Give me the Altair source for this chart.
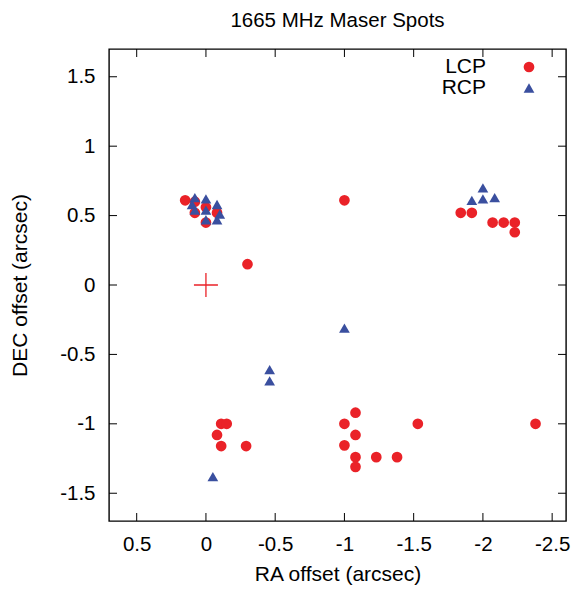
import altair as alt
import pandas as pd

# LCP (red circles)
lcp_x = [0.15, 0.08, 0.08, 0.0, -0.08, 0.0,
         -1.84, -1.92, -2.07, -2.15, -2.23, -2.23,
         -1.0, -0.3,
         -0.11, -0.15, -0.08, -0.11, -0.29,
         -1.08, -1.0, -1.08, -1.0, -1.08, -1.08, -1.23, -1.38, -1.53, -2.38]
lcp_y = [0.61, 0.60, 0.52, 0.56, 0.52, 0.45,
         0.52, 0.52, 0.45, 0.45, 0.45, 0.38,
         0.61, 0.15,
         -1.0, -1.0, -1.08, -1.16, -1.16,
         -0.92, -1.0, -1.08, -1.155, -1.24, -1.31, -1.24, -1.24, -1.0, -1.0]

# RCP (blue triangles)
rcp_x = [0.08, 0.0, 0.10, -0.08, 0.08, 0.0, -0.10, 0.0, -0.08,
         -2.0, -1.92, -2.0, -2.085,
         -1.0, -0.46, -0.46, -0.05]
rcp_y = [0.63, 0.62, 0.58, 0.58, 0.54, 0.54, 0.51, 0.47, 0.47,
         0.70, 0.61, 0.62, 0.63,
         -0.31, -0.61, -0.69, -1.38]

# reference position (plus)
ref_x = [0.0]
ref_y = [0.0]

series = ["LCP", "RCP"]
x_ticks = [0.5, 0, -0.5, -1, -1.5, -2, -2.5]
y_ticks = [-1.5, -1, -0.5, 0, 0.5, 1, 1.5]

W, H = 457, 472
TL = 8
FONT = "Liberation Sans"
RED = "#ea2228"
BLUE = "#3a4f9f"

pts = pd.DataFrame({
    "x": lcp_x + rcp_x,
    "y": lcp_y + rcp_y,
    "pol": ["LCP"] * len(lcp_x) + ["RCP"] * len(rcp_x),
})
ref = pd.DataFrame({"x": ref_x, "y": ref_y})
xt = pd.DataFrame({"x": x_ticks})
yt = pd.DataFrame({"y": y_ticks})

xs = alt.Scale(domain=[-2.6, 0.7], reverse=True, nice=False, zero=False)
ys = alt.Scale(domain=[-1.7, 1.7], nice=False, zero=False)
cs = alt.Scale(domain=series, range=[RED, BLUE])
ss = alt.Scale(domain=series, range=["circle", "triangle-up"])

xenc = alt.X("x:Q", scale=xs, axis=alt.Axis(
    values=x_ticks, tickSize=0, domain=False, grid=False,
    labelExpr="toString(datum.value)", labelFontSize=20.5, labelPadding=13,
    labelFont=FONT, labelColor="black",
    title="RA offset (arcsec)", titleFont=FONT, titleFontSize=21,
    titleFontWeight="normal", titlePadding=9, titleColor="black"))
yenc = alt.Y("y:Q", scale=ys, axis=alt.Axis(
    values=y_ticks, tickSize=0, domain=False, grid=False,
    labelExpr="toString(datum.value)", labelFontSize=20.5, labelPadding=14,
    labelFont=FONT, labelColor="black",
    title="DEC offset (arcsec)", titleFont=FONT, titleFontSize=21,
    titleFontWeight="normal", titlePadding=29, titleColor="black"))

points = alt.Chart(pts).mark_point(filled=True, size=115, opacity=1).encode(
    x=xenc, y=yenc,
    color=alt.Color("pol:N", scale=cs, legend=None),
    shape=alt.Shape("pol:N", scale=ss, legend=None),
)

plus = alt.Chart(ref).mark_point(shape="M-1,0L1,0M0,-1L0,1", filled=False, size=576,
                                 color=RED, strokeWidth=1.3, opacity=1).encode(x=xenc, y=yenc)

bt = alt.Chart(xt).mark_rule(color="black", strokeWidth=1).encode(
    x=xenc, y=alt.value(H), y2=alt.value(H - TL))
tt = alt.Chart(xt).mark_rule(color="black", strokeWidth=1).encode(
    x=xenc, y=alt.value(0), y2=alt.value(TL))
lt = alt.Chart(yt).mark_rule(color="black", strokeWidth=1).encode(
    y=yenc, x=alt.value(0), x2=alt.value(TL))
rt = alt.Chart(yt).mark_rule(color="black", strokeWidth=1).encode(
    y=yenc, x=alt.value(W), x2=alt.value(W - TL))

# manual legend (label to the left of the symbol)
legend_layers = []
for i, name in enumerate(series):
    d = pd.DataFrame({"pol": [name]})
    yy = 18 + 21 * i
    legend_layers.append(alt.Chart(d).mark_text(
        align="right", baseline="middle", font=FONT, fontSize=21, color="black").encode(
        text="pol:N", x=alt.value(377), y=alt.value(yy)))
    legend_layers.append(alt.Chart(d).mark_point(filled=True, size=115, opacity=1).encode(
        x=alt.value(420), y=alt.value(yy),
        color=alt.Color("pol:N", scale=cs, legend=None),
        shape=alt.Shape("pol:N", scale=ss, legend=None)))

chart = alt.layer(bt, tt, lt, rt, points, plus, *legend_layers).properties(
    width=W, height=H,
    title=alt.TitleParams("1665 MHz Maser Spots", font=FONT, fontSize=20.5,
                          fontWeight="normal", color="black", frame="group",
                          anchor="middle", offset=17),
    autosize=alt.AutoSizeParams(type="none"),
    padding={"left": 101, "top": 41, "right": 5, "bottom": 64},
).configure_view(stroke="black", strokeWidth=1.4)

chart.save("out.html", embed_options={"renderer": "svg", "actions": False})
